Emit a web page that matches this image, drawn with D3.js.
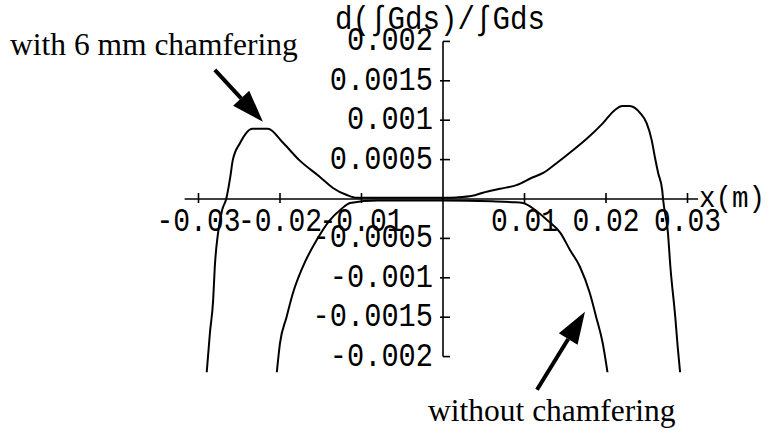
<!DOCTYPE html>
<html>
<head>
<meta charset="utf-8">
<script src="https://cdn.jsdelivr.net/npm/d3@7"></script>
<style>
  html, body { margin: 0; padding: 0; background: #fff; }
  svg { display: block; }
</style>
</head>
<body>
<svg id="chart" width="772" height="430"></svg>
<script>
// Axis ticks
const xTicks = [-0.03, -0.02, -0.01, 0.01, 0.02, 0.03];
const xTickLabels = ["-0.03", "-0.02", "-0.01", "0.01", "0.02", "0.03"];
const yTicks = [-0.002, -0.0015, -0.001, -0.0005, 0.0005, 0.001, 0.0015, 0.002];
const yTickLabels = ["-0.002", "-0.0015", "-0.001", "-0.0005", "0.0005", "0.001", "0.0015", "0.002"];

// Field error profile with 6 mm chamfering: x (m)
const chamferX = [-0.0290, -0.0286, -0.0282, -0.0280, -0.0276, -0.0271, -0.0266, -0.0261, -0.0258,
  -0.0249, -0.0234, -0.0215, -0.0196, -0.0176, -0.0151, -0.0135, -0.0118, -0.0106, -0.0050,
  0.0000, 0.0017, 0.0036, 0.0049, 0.0070, 0.0091, 0.0109, 0.0123, 0.0140, 0.0156, 0.0177,
  0.0196, 0.0211, 0.0220, 0.0229, 0.0242, 0.0250, 0.0256, 0.0260, 0.0264, 0.0269, 0.0270,
  0.0276, 0.0279, 0.0285, 0.0288, 0.0291];
// ... and d(∫Gds)/∫Gds
const chamferY = [-0.00221, -0.00170, -0.00128, -0.00086, -0.00043, -0.00014, 0.00000, 0.00028, 0.00049,
  0.00071, 0.00089, 0.00089, 0.00071, 0.00049, 0.00028, 0.00014, 0.00005, 0.000015, 0.000015,
  0.000015, 0.00002, 0.00004, 0.00008, 0.00013, 0.00018, 0.00027, 0.00033, 0.00046, 0.00059, 0.00077,
  0.00096, 0.00113, 0.00118, 0.00118, 0.00109, 0.00096, 0.00075, 0.00053, 0.00033, 0.00011, 0.00000,
  -0.00043, -0.00086, -0.00150, -0.00188, -0.00221];

// Field error profile without chamfering
const plainX = [-0.0204, -0.0200, -0.0192, -0.0184, -0.0172, -0.0155, -0.0139, -0.0125, -0.0114,
  -0.0080, 0.0000, 0.0060, 0.0085, 0.0098, 0.0113, 0.0128, 0.0144, 0.0156, 0.0168, 0.0180,
  0.0188, 0.0196, 0.0202];
const plainY = [-0.00221, -0.00183, -0.00150, -0.00119, -0.00086, -0.00052, -0.00027, -0.00013, -0.00005,
  -0.00002, -0.00002, -0.00003, -0.00004, -0.00005, -0.00014, -0.00027, -0.00043, -0.00065, -0.00086, -0.00119,
  -0.00150, -0.00183, -0.00221];

// Annotation arrows: [tailX, tailY, tipX, tipY] in data units
const chamferArrow = [-0.0280, 0.00164, -0.0221, 0.00098];
const plainArrow = [0.01153, -0.00242, 0.01742, -0.00143];

const svg = d3.select("#chart");
const x = d3.scaleLinear().domain([-0.03, 0.03]).range([198.5, 687.5]);
const y = d3.scaleLinear().domain([-0.002, 0.002]).range([356.6, 41.4]);
const x0 = x(0), y0 = y(0);

const monoFont = "'Liberation Mono', 'Courier New', monospace";
const serifFont = "'Liberation Serif', 'Times New Roman', serif";
const charW = 16.8;

// clip curves at the lower edge of the plotting range
svg.append("clipPath").attr("id", "plotClip")
  .append("rect")
  .attr("x", 0).attr("y", 0)
  .attr("width", 772).attr("height", y(-0.0022));

// x axis
svg.append("line")
  .attr("x1", x(-0.0317)).attr("x2", x(0.0313))
  .attr("y1", y0).attr("y2", y0)
  .attr("stroke", "#000").attr("stroke-width", 1.6);
svg.selectAll(".xtick").data(xTicks).join("line")
  .attr("x1", d => x(d)).attr("x2", d => x(d))
  .attr("y1", y0 - 6).attr("y2", y0 + 4)
  .attr("stroke", "#000").attr("stroke-width", 1.6);
svg.selectAll(".xlab").data(xTicks).join("text")
  .attr("x", d => x(d)).attr("y", y0 + 32)
  .attr("text-anchor", "middle")
  .attr("font-family", monoFont).attr("font-size", 33)
  .attr("textLength", (d, i) => xTickLabels[i].length * charW)
  .attr("lengthAdjust", "spacingAndGlyphs")
  .text((d, i) => xTickLabels[i]);

// y axis
svg.append("line")
  .attr("x1", x0).attr("x2", x0)
  .attr("y1", y(0.002)).attr("y2", y(-0.002))
  .attr("stroke", "#000").attr("stroke-width", 1.6);
svg.selectAll(".ytick").data(yTicks).join("line")
  .attr("x1", d => Math.abs(d) >= 0.002 ? x0 : x0 - 3).attr("x2", x0 + 7)
  .attr("y1", d => y(d)).attr("y2", d => y(d))
  .attr("stroke", "#000").attr("stroke-width", 1.6);
svg.selectAll(".ylab").data(yTicks).join("text")
  .attr("x", x0 - 10).attr("y", d => y(d) + 9)
  .attr("text-anchor", "end")
  .attr("font-family", monoFont).attr("font-size", 33)
  .attr("textLength", (d, i) => yTickLabels[i].length * 17.2)
  .attr("lengthAdjust", "spacingAndGlyphs")
  .text((d, i) => yTickLabels[i]);

// axis titles
svg.append("text")
  .attr("x", x0 - 3).attr("y", 29)
  .attr("text-anchor", "middle")
  .attr("font-family", monoFont).attr("font-size", 33)
  .attr("textLength", 210).attr("lengthAdjust", "spacingAndGlyphs")
  .text("d(∫Gds)/∫Gds");
svg.append("text")
  .attr("x", x(0.0314)).attr("y", y0 + 8)
  .attr("font-family", monoFont).attr("font-size", 29)
  .attr("textLength", 66).attr("lengthAdjust", "spacingAndGlyphs")
  .text("x(m)");

// curves
const line = d3.line()
  .x(d => x(d[0])).y(d => y(d[1]))
  .curve(d3.curveMonotoneX);
const curves = svg.append("g").attr("clip-path", "url(#plotClip)");
curves.append("path")
  .datum(chamferX.map((v, i) => [v, chamferY[i]]))
  .attr("d", line)
  .attr("fill", "none").attr("stroke", "#000").attr("stroke-width", 2);
curves.append("path")
  .datum(plainX.map((v, i) => [v, plainY[i]]))
  .attr("d", line)
  .attr("fill", "none").attr("stroke", "#000").attr("stroke-width", 2);

// arrows
function arrow(a) {
  const tx = x(a[0]), ty = y(a[1]), hx = x(a[2]), hy = y(a[3]);
  const ang = Math.atan2(hy - ty, hx - tx);
  const headLen = 32, headHalf = 11;
  const bx = hx - headLen * Math.cos(ang), by = hy - headLen * Math.sin(ang);
  svg.append("line")
    .attr("x1", tx).attr("y1", ty).attr("x2", bx).attr("y2", by)
    .attr("stroke", "#000").attr("stroke-width", 4);
  const px = -Math.sin(ang) * headHalf, py = Math.cos(ang) * headHalf;
  svg.append("polygon")
    .attr("points", [[hx, hy], [bx + px, by + py], [bx - px, by - py]].map(p => p.join(",")).join(" "))
    .attr("fill", "#000");
}
arrow(chamferArrow);
arrow(plainArrow);

// annotations
svg.append("text")
  .attr("x", 10).attr("y", 55)
  .attr("font-family", serifFont).attr("font-size", 31.5)
  .text("with 6 mm chamfering");
svg.append("text")
  .attr("x", 428).attr("y", 421)
  .attr("font-family", serifFont).attr("font-size", 31.5)
  .text("without chamfering");
</script>
</body>
</html>
